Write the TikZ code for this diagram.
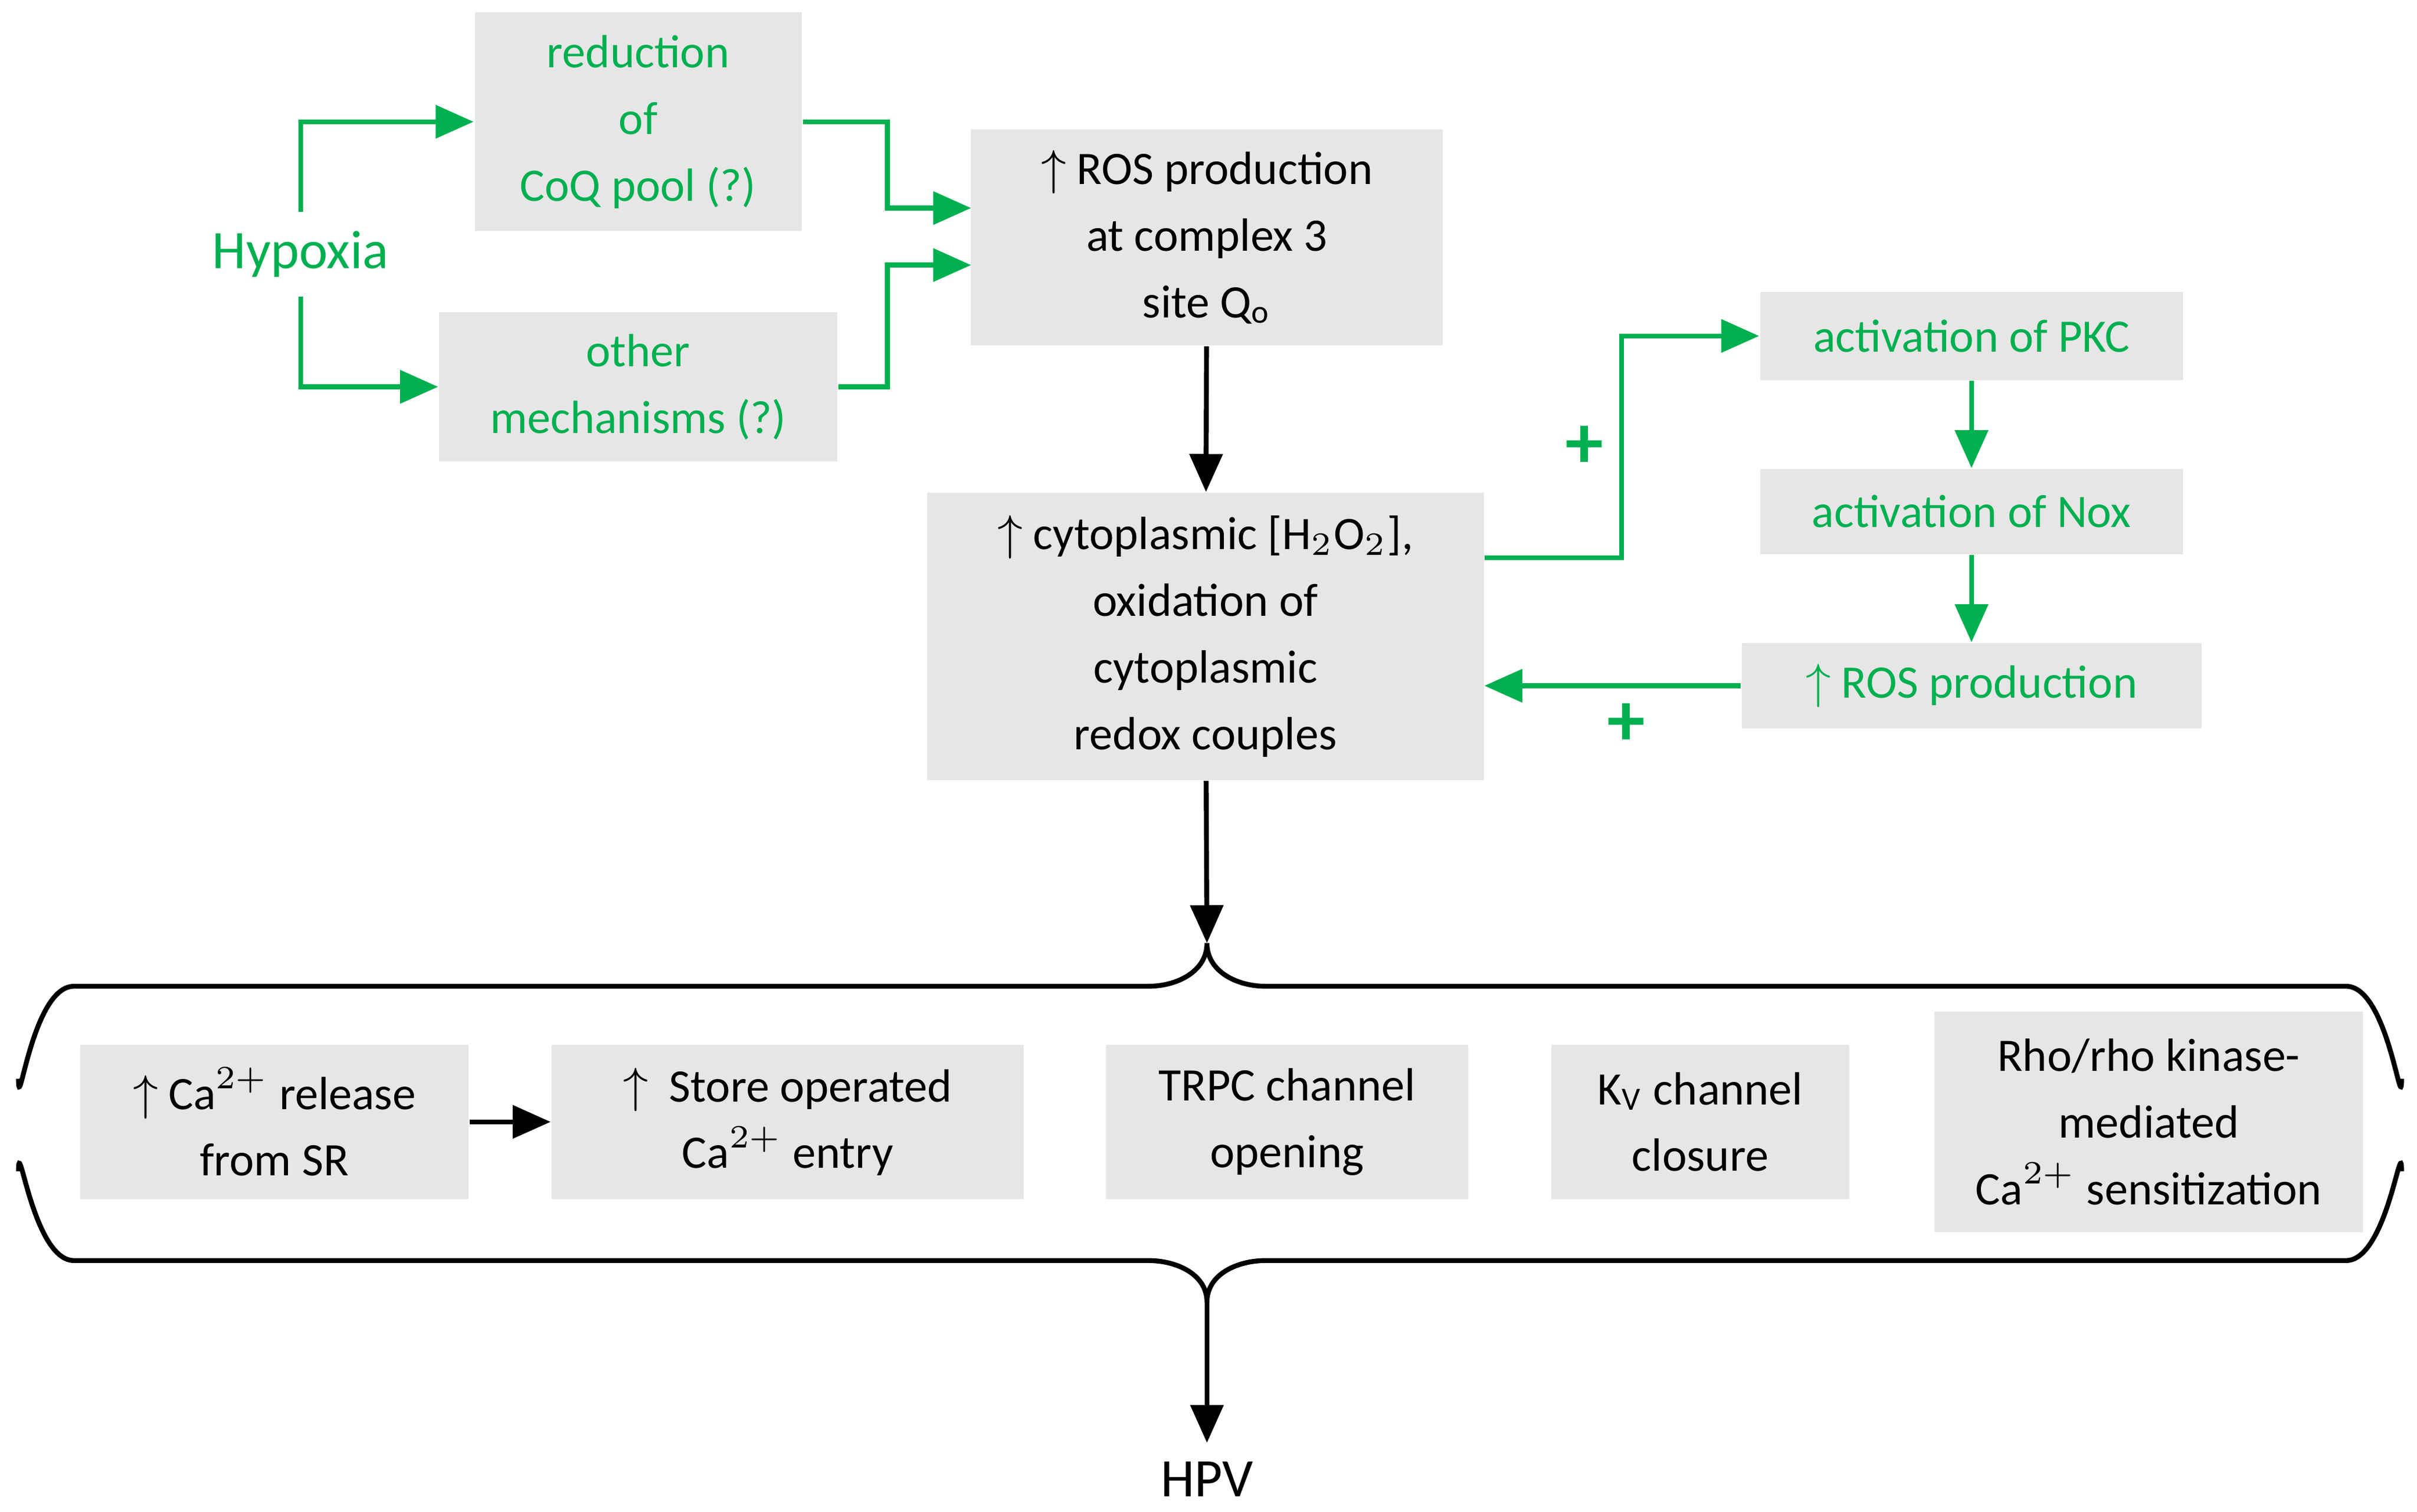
\documentclass[tikz,border=0pt]{standalone}
\usepackage{fontspec}
\setmainfont{Carlito}
\usetikzlibrary{arrows.meta}
\definecolor{grn}{RGB}{0,176,80}
\definecolor{boxgray}{RGB}{231,230,230}
\tikzset{
box/.style = {fill=boxgray, align=center, inner sep=2pt},
gbox/.style = {box, text=grn},
arr/.style = {-{Triangle[length=7pt,width=6pt]}, line width=0.9pt},
garr/.style = {arr, draw=grn},
}
\begin{document}
\begin{tikzpicture}
[x=0.01cm, y=-0.01cm,
font=\fontsize{8.6}{12.3}\selectfont]
\useasboundingbox (0,0) rectangle (1568,981);
\node [gbox, minimum width=2.12cm, minimum height=1.42cm] (coq) at (414,79) {reduction\\of\\CoQ pool (?)};
\node [gbox, minimum width=2.58cm, minimum height=0.97cm] (other) at (414,251) {other\\mechanisms (?)};
\node [text=grn, font=\fontsize{10}{12}\selectfont] (hyp) at (195,165) {Hypoxia};
\node [box, minimum width=3.06cm, minimum height=1.40cm] (ros) at (783,154) {$\uparrow$ ROS production\\at complex 3\\site Q$_\mathrm{o}$};
\node [box, minimum width=3.61cm, minimum height=1.86cm] (cyto) at (782,413) {$\uparrow$ cytoplasmic [H$_2$O$_2$],\\oxidation of\\cytoplasmic\\redox couples};
\node [gbox, minimum width=2.74cm, minimum height=0.57cm] (pkc) at (1279,218) {activation of PKC};
\node [gbox, minimum width=2.74cm, minimum height=0.55cm] (nox) at (1279,332) {activation of Nox};
\node [gbox, minimum width=2.98cm, minimum height=0.55cm] (rosp) at (1279,445) {$\uparrow$ ROS production};
\node [box, minimum width=2.52cm, minimum height=1.00cm] (carel) at (178,728) {$\uparrow$ Ca$^{2+}$ release\\from SR};
\node [box, minimum width=3.06cm, minimum height=1.00cm] (store) at (511,728) {$\uparrow$ \ Store operated\\Ca$^{2+}$ entry};
\node [box, minimum width=2.35cm, minimum height=1.00cm] (trpc) at (835,728) {TRPC channel\\opening};
\node [box, minimum width=1.93cm, minimum height=1.00cm] (kv) at (1103,728) {K$_\mathrm{V}$ channel\\closure};
\node [box, minimum width=2.78cm, minimum height=1.43cm] (rho) at (1394,728) {Rho/rho kinase-\\mediated\\Ca$^{2+}$ sensitization};
\node [font=\fontsize{10}{12}\selectfont] (hpv) at (783,960) {HPV};
% braces
\coordinate (topTip) at (783,612);
\coordinate (botTip) at (783,845);
\draw [line width=0.9pt] (12,700) to[out=-90,in=180] (48,640) -- (745,640)
  to[out=0,in=-90] (topTip) to[out=-90,in=180] (821,640) -- (1522,640) to[out=0,in=-90] (1558,700);
\draw [line width=0.9pt] (12,760) to[out=90,in=180] (48,818) -- (745,818)
  to[out=0,in=90] (botTip) to[out=90,in=180] (821,818) -- (1522,818) to[out=0,in=90] (1558,760);
% connectors
\draw [garr] (hyp.north) |- (coq.west);
\draw [garr] (hyp.south) |- (other.west);
\draw [garr] (coq.east) -- ++(55,0) |- (630,135);
\draw [garr] (other.east) -- ++(32,0) |- (630,172);
\draw [arr] (ros) -- (cyto);
\draw [garr] (963,362) -| (1052,218) -- (pkc.west);
\draw [garr] (pkc) -- (nox);
\draw [garr] (nox) -- (rosp);
\draw [garr] (rosp.west) -- (963,445);
\node [text=grn, font=\bfseries\fontsize{14}{14}\selectfont] (plus1) at (1028,290) {+};
\node [text=grn, font=\bfseries\fontsize{14}{14}\selectfont] (plus2) at (1055,470) {+};
\draw [arr] (cyto) -- (topTip);
\draw [arr] (carel) -- (store);
\draw [arr] (botTip) -- (hpv);
\end{tikzpicture}
\end{document}
